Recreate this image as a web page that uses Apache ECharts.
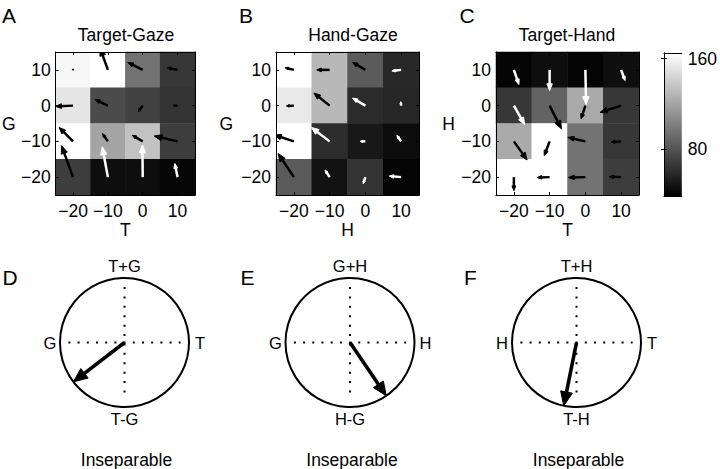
<!DOCTYPE html>
<html><head><meta charset="utf-8">
<script src="https://cdn.jsdelivr.net/npm/echarts@6/dist/echarts.min.js"></script>
<style>html,body{margin:0;padding:0;background:#fff;}#c{width:720px;height:469px;}</style>
</head><body><div id="c"></div>
<script>
const FONT = '"Liberation Sans", Arial, Helvetica, sans-serif';

// ---------- data ----------
const tickValues = [-20, -10, 0, 10];          // column (x) levels and row (y) levels
const rowLevels = [10, 0, -10, -20];            // rows as read top to bottom
const panelLetters = ['A', 'B', 'C', 'D', 'E', 'F'];
const heatTitles = ['Target-Gaze', 'Hand-Gaze', 'Target-Hand'];
const xNames = ['T', 'H', 'T'];
const yNames = ['G', 'G', 'H'];

// cell values (rows = rowLevels, columns = tickValues)
const cellsA = [[161, 170, 96, 66], [152, 76, 71, 64], [170, 120, 135, 69], [69, 46, 46, 42]];
const cellsB = [[170, 130, 84, 59], [154, 130, 60, 58], [170, 61, 51, 45], [84, 48, 64, 41]];
const cellsC = [[41, 46, 41, 46], [66, 88, 123, 66], [123, 170, 96, 66], [170, 170, 96, 69]];

// arrow vectors [dx, dy] per cell (same layout as cells), in axis units
const arrowsA = [[[0, 0.3], [-2.2, 6.0], [-4.3, 2.1], [-3.0, 0.6]],
                 [[-5.0, -0.2], [-3.7, 1.7], [-1.3, -1.7], [-1.3, 0]],
                 [[-4.0, 3.9], [-1.6, 2.2], [-3.0, 1.7], [-6.7, 1.5]],
                 [[-3.3, 8.8], [-1.6, 8.5], [-0.1, 9.0], [-0.8, 3.8]]];
const arrowsB = [[[-2.5, 0.6], [-3.6, 0], [-3.6, 2.1], [-2.6, -0.3]],
                 [[-2.1, -0.1], [-4.4, 3.5], [-3.6, 2.1], [-0.1, 1.1]],
                 [[-5.4, 1.8], [-5.1, 3.9], [-1.5, 0], [-1.2, 1.7]],
                 [[-4.4, 6.6], [-1.3, 2.0], [-0.6, -1.9], [-3.3, 0.3]]];
const arrowsC = [[[1.4, -4.1], [0, -5.8], [0.2, -9.7], [1.1, -3.0]],
                 [[3.0, -5.3], [3.3, -6.5], [-1.2, -3.7], [-5.9, -1.9]],
                 [[3.7, -5.2], [-1.5, -4.0], [-4.9, 1.1], [-2.8, -0.2]],
                 [[0, -3.8], [-3.5, -0.1], [-4.7, -0.1], [-3.3, 0.1]]];
// arrow shade per cell: k = black, w = white
const arrowShadeA = ['kkkk', 'kkkk', 'kkkk', 'kwww'];
const arrowShadeB = ['kkkw', 'kkww', 'kwww', 'kwww'];
const arrowShadeC = ['wwww', 'wkkk', 'kkkk', 'kkkk'];

// colour bar
const cbMin = 39, cbMax = 165;
const cbTicks = [80, 160];

// circle panels D, E, F
const circleAngles = [217.6, 304.2, 258.6];   // degrees, counter-clockwise from right
const circleMags = [1, 1, 1];
const circleTop = ['T+G', 'G+H', 'T+H'];
const circleBottom = ['T-G', 'H-G', 'T-H'];
const circleLeft = ['G', 'G', 'H'];
const circleRight = ['T', 'H', 'T'];
const circleCaption = ['Inseparable', 'Inseparable', 'Inseparable'];

// ---------- build ----------
const cats = tickValues.map(String);
const fmt = v => String(v).replace('-', '\u2212');
const cells = [cellsA, cellsB, cellsC];
const arrows = [arrowsA, arrowsB, arrowsC];
const shades = [arrowShadeA, arrowShadeB, arrowShadeC];

const heatGrids = [
  {left: 52, top: 52, width: 143, height: 143},
  {left: 276, top: 52, width: 143, height: 143},
  {left: 496, top: 52, width: 143, height: 143}
];
const cbGrid = {left: 664, top: 53, width: 22, height: 143};
const circGrids = [
  {left: 60, top: 278, width: 129, height: 129},
  {left: 285.5, top: 278, width: 129, height: 129},
  {left: 512, top: 278, width: 129, height: 129}
];
const yNameGap = [40, 43, 41];

const txt = {fontSize: 17.5, color: '#000', fontFamily: FONT};
const blackLine = {show: true, lineStyle: {color: '#000', width: 1}};
const inTick = {show: true, inside: true, alignWithLabel: true, length: 3, interval: 0, lineStyle: {color: '#000'}};

const grid = [...heatGrids, cbGrid, ...circGrids].map(g => Object.assign({containLabel: false}, g));
const xAxis = [], yAxis = [];
for (let i = 0; i < 3; i++) {
  xAxis.push({type: 'category', gridIndex: i, data: cats, position: 'bottom', z: 5,
    axisLine: blackLine, axisTick: inTick, splitLine: {show: false},
    axisLabel: Object.assign({margin: 7, interval: 0, hideOverlap: false, formatter: fmt}, txt),
    name: xNames[i], nameLocation: 'middle', nameGap: 26, nameTextStyle: txt});
}
for (let i = 0; i < 3; i++) {
  xAxis.push({type: 'category', gridIndex: i, data: cats, position: 'top', z: 5,
    axisLine: blackLine, axisTick: inTick, axisLabel: {show: false}, splitLine: {show: false}});
}
xAxis.push({type: 'value', gridIndex: 3, min: 0, max: 1, position: 'bottom', z: 5,
  axisLine: blackLine, axisTick: {show: false}, axisLabel: {show: false}, splitLine: {show: false}});
xAxis.push({type: 'value', gridIndex: 3, min: 0, max: 1, position: 'top', z: 5,
  axisLine: blackLine, axisTick: {show: false}, axisLabel: {show: false}, splitLine: {show: false}});
for (let i = 0; i < 3; i++) {
  xAxis.push({type: 'value', gridIndex: 4 + i, min: -1, max: 1, show: false});
}

for (let i = 0; i < 3; i++) {
  yAxis.push({type: 'category', gridIndex: i, data: cats, position: 'left', z: 5,
    axisLine: blackLine, axisTick: inTick, splitLine: {show: false},
    axisLabel: Object.assign({margin: 5, interval: 0, hideOverlap: false, formatter: fmt}, txt),
    name: yNames[i], nameLocation: 'middle', nameRotate: 0, nameGap: yNameGap[i], nameTextStyle: txt});
}
for (let i = 0; i < 3; i++) {
  yAxis.push({type: 'category', gridIndex: i, data: cats, position: 'right', z: 5,
    axisLine: blackLine, axisTick: inTick, axisLabel: {show: false}, splitLine: {show: false}});
}
yAxis.push({type: 'value', gridIndex: 3, min: cbMin, max: cbMax, position: 'right', z: 5,
  axisLine: blackLine, splitLine: {show: false},
  axisTick: {show: true, inside: true, length: 3, customValues: cbTicks, lineStyle: {color: '#000'}},
  axisLabel: Object.assign({margin: 6, customValues: cbTicks}, txt)});
yAxis.push({type: 'value', gridIndex: 3, min: cbMin, max: cbMax, position: 'left', z: 5,
  axisLine: blackLine, splitLine: {show: false},
  axisTick: {show: true, inside: true, length: 3, customValues: cbTicks, lineStyle: {color: '#000'}},
  axisLabel: {show: false}});
for (let i = 0; i < 3; i++) {
  yAxis.push({type: 'value', gridIndex: 4 + i, min: -1, max: 1, show: false});
}

function headPoly(x0, y0, x1, y1, len, half) {
  const L = Math.hypot(x1 - x0, y1 - y0) || 1;
  const ux = (x1 - x0) / L, uy = (y1 - y0) / L;
  const bx = x1 - ux * len, by = y1 - uy * len;
  return [[x1, y1], [bx - uy * half, by + ux * half], [bx + uy * half, by - ux * half]];
}

const series = [];
for (let p = 0; p < 3; p++) {
  const hd = [];
  const ad = [];
  rowLevels.forEach((lvl, r) => {
    const yi = cats.indexOf(String(lvl));
    tickValues.forEach((tv, c) => {
      hd.push([c, yi, cells[p][r][c]]);
      const v = arrows[p][r][c];
      ad.push([c, yi, v[0], v[1], shades[p][r][c] === 'w' ? 1 : 0]);
    });
  });
  series.push({type: 'heatmap', xAxisIndex: p, yAxisIndex: p, data: hd,
    itemStyle: {borderWidth: 0}, emphasis: {disabled: true}, silent: true, z: 1});
  series.push({type: 'custom', xAxisIndex: p, yAxisIndex: p, data: ad, clip: true, silent: true, z: 3,
    encode: {x: 0, y: 1},
    renderItem(params, api) {
      const c = api.coord([api.value(0), api.value(1)]);
      const s = api.size([1, 1]);
      const ux = s[0] / 10, uy = s[1] / 10;
      const ex = c[0] + api.value(2) * ux, ey = c[1] - api.value(3) * uy;
      const col = api.value(4) === 1 ? '#fff' : '#000';
      const L = Math.hypot(ex - c[0], ey - c[1]);
      const hl = Math.min(8, 0.28 * L + 1);
      const hw = hl * 0.4;
      const shaftEnd = L > 0 ? [ex - (ex - c[0]) / L * hl * 0.6, ey - (ey - c[1]) / L * hl * 0.6] : [ex, ey];
      return {type: 'group', children: [
        {type: 'line', shape: {x1: c[0], y1: c[1], x2: shaftEnd[0], y2: shaftEnd[1]},
          style: {stroke: col, lineWidth: 2.5, lineCap: 'butt'}},
        {type: 'polygon', shape: {points: headPoly(c[0], c[1], ex, ey, hl, hw)},
          style: {fill: col, stroke: col, lineWidth: 1, lineJoin: 'round'}}
      ]};
    }});
}

// colour bar
series.push({type: 'custom', xAxisIndex: 6, yAxisIndex: 6, data: [[0, cbMin, cbMax]], silent: true, z: 1,
  encode: {x: 0, y: [1, 2]},
  renderItem(params, api) {
    const a = api.coord([0, api.value(2)]);
    const b = api.coord([1, api.value(1)]);
    return {type: 'rect', shape: {x: a[0], y: a[1], width: b[0] - a[0], height: b[1] - a[1]},
      style: {fill: {type: 'linear', x: 0, y: 0, x2: 0, y2: 1,
        colorStops: [{offset: 0, color: '#ffffff'}, {offset: 1, color: '#000000'}]}}};
  }});

// circle panels
for (let k = 0; k < 3; k++) {
  series.push({type: 'custom', xAxisIndex: 8 + k, yAxisIndex: 8 + k, data: [[circleAngles[k], circleMags[k]]],
    silent: true, clip: false, z: 3,
    renderItem(params, api) {
      const ang = api.value(0) * Math.PI / 180, mag = api.value(1);
      const c = api.coord([0, 0]);
      const r = api.coord([1, 0])[0] - c[0];
      const tip = api.coord([mag * Math.cos(ang), mag * Math.sin(ang)]);
      const L = Math.hypot(tip[0] - c[0], tip[1] - c[1]);
      const hl = 14, hw = 6;
      const se = [tip[0] - (tip[0] - c[0]) / L * hl * 0.7, tip[1] - (tip[1] - c[1]) / L * hl * 0.7];
      const h1 = api.coord([-0.87, 0]), h2 = api.coord([0.87, 0]);
      const v1 = api.coord([0, 0.86]), v2 = api.coord([0, -0.86]);
      const lab = {fontSize: 16.5, fontFamily: FONT, fill: '#000', align: 'center', verticalAlign: 'middle'};
      return {type: 'group', children: [
        {type: 'line', shape: {x1: h1[0], y1: h1[1], x2: h2[0], y2: h2[1]},
          style: {stroke: '#000', lineWidth: 2, lineDash: [2, 7.2]}},
        {type: 'line', shape: {x1: v1[0], y1: v1[1], x2: v2[0], y2: v2[1]},
          style: {stroke: '#000', lineWidth: 2, lineDash: [2, 7.4]}},
        {type: 'circle', shape: {cx: c[0], cy: c[1], r: r}, style: {fill: 'none', stroke: '#000', lineWidth: 2}},
        {type: 'line', shape: {x1: c[0], y1: c[1], x2: se[0], y2: se[1]},
          style: {stroke: '#000', lineWidth: 3.6}},
        {type: 'polygon', shape: {points: headPoly(c[0], c[1], tip[0], tip[1], hl, hw)},
          style: {fill: '#000', stroke: '#000', lineWidth: 1}},
        {type: 'text', x: c[0], y: c[1] - r - 12, style: Object.assign({text: circleTop[k]}, lab)},
        {type: 'text', x: c[0], y: c[1] + r + 12, style: Object.assign({text: circleBottom[k]}, lab)},
        {type: 'text', x: c[0] - r - 10, y: c[1], style: Object.assign({text: circleLeft[k]}, lab)},
        {type: 'text', x: c[0] + r + 11, y: c[1], style: Object.assign({text: circleRight[k]}, lab)},
        {type: 'text', x: c[0] + 2, y: c[1] + r + 53, style: Object.assign({text: circleCaption[k]}, lab, {fontSize: 17.5})}
      ]};
    }});
}

// free text: panel letters and heatmap titles
const letterPos = [[9, 15], [246, 15], [467, 15], [10, 277], [247.5, 277], [470.5, 277]];
const titlePos = [[126, 35], [353, 35], [567, 35]];
const graphic = [];
panelLetters.forEach((t, i) => graphic.push({type: 'text', x: letterPos[i][0], y: letterPos[i][1],
  style: {text: t, fontSize: 21, fontFamily: FONT, fill: '#000', align: 'center', verticalAlign: 'middle'}}));
heatTitles.forEach((t, i) => graphic.push({type: 'text', x: titlePos[i][0], y: titlePos[i][1],
  style: {text: t, fontSize: 17.5, fontFamily: FONT, fill: '#000', align: 'center', verticalAlign: 'middle'}}));

const chart = echarts.init(document.getElementById('c'), null, {renderer: 'svg', width: 720, height: 469});
chart.setOption({
  animation: false,
  backgroundColor: '#fff',
  textStyle: {fontFamily: FONT},
  grid, xAxis, yAxis,
  visualMap: {type: 'continuous', min: cbMin, max: cbMax, seriesIndex: [0, 2, 4], dimension: 2, show: false,
    inRange: {color: ['#000000', '#ffffff']}},
  series, graphic
});
</script></body></html>
